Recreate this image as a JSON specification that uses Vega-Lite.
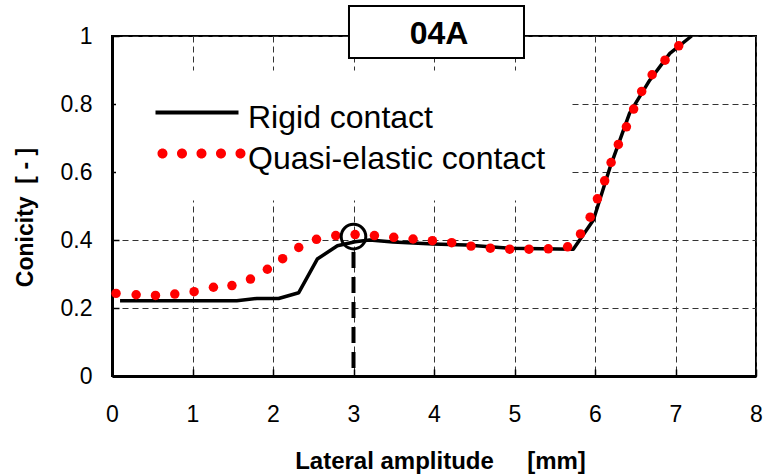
{
  "$schema": "https://vega.github.io/schema/vega-lite/v6.json",
  "width": 644,
  "height": 340,
  "autosize": {"type": "none"},
  "padding": {"left": 112, "top": 36, "right": 10, "bottom": 99},
  "background": "white",
  "config": {
    "view": {"stroke": "black", "strokeWidth": 2},
    "font": "Liberation Sans"
  },
  "data": {
    "values": [
      {"series": "Rigid contact", "x": 0.1, "y": 0.221},
      {"series": "Rigid contact", "x": 1.55, "y": 0.221},
      {"series": "Rigid contact", "x": 1.8, "y": 0.228},
      {"series": "Rigid contact", "x": 2.07, "y": 0.228},
      {"series": "Rigid contact", "x": 2.32, "y": 0.245},
      {"series": "Rigid contact", "x": 2.55, "y": 0.344},
      {"series": "Rigid contact", "x": 2.8, "y": 0.383},
      {"series": "Rigid contact", "x": 3.02, "y": 0.395},
      {"series": "Rigid contact", "x": 3.2, "y": 0.4},
      {"series": "Rigid contact", "x": 3.49, "y": 0.394},
      {"series": "Rigid contact", "x": 3.99, "y": 0.388},
      {"series": "Rigid contact", "x": 4.4, "y": 0.385},
      {"series": "Rigid contact", "x": 4.94, "y": 0.376},
      {"series": "Rigid contact", "x": 5.73, "y": 0.373},
      {"series": "Rigid contact", "x": 5.98, "y": 0.459},
      {"series": "Rigid contact", "x": 6.19, "y": 0.616},
      {"series": "Rigid contact", "x": 6.43, "y": 0.773},
      {"series": "Rigid contact", "x": 6.68, "y": 0.87},
      {"series": "Rigid contact", "x": 6.93, "y": 0.949},
      {"series": "Rigid contact", "x": 7.2, "y": 1.0},
      {"series": "Quasi-elastic contact", "x": 0.05, "y": 0.243},
      {"series": "Quasi-elastic contact", "x": 0.3, "y": 0.239},
      {"series": "Quasi-elastic contact", "x": 0.54, "y": 0.237},
      {"series": "Quasi-elastic contact", "x": 0.78, "y": 0.241},
      {"series": "Quasi-elastic contact", "x": 1.02, "y": 0.248},
      {"series": "Quasi-elastic contact", "x": 1.26, "y": 0.261},
      {"series": "Quasi-elastic contact", "x": 1.49, "y": 0.266},
      {"series": "Quasi-elastic contact", "x": 1.72, "y": 0.285},
      {"series": "Quasi-elastic contact", "x": 1.93, "y": 0.314},
      {"series": "Quasi-elastic contact", "x": 2.12, "y": 0.345},
      {"series": "Quasi-elastic contact", "x": 2.32, "y": 0.378},
      {"series": "Quasi-elastic contact", "x": 2.54, "y": 0.402},
      {"series": "Quasi-elastic contact", "x": 2.78, "y": 0.413},
      {"series": "Quasi-elastic contact", "x": 3.02, "y": 0.416},
      {"series": "Quasi-elastic contact", "x": 3.26, "y": 0.413},
      {"series": "Quasi-elastic contact", "x": 3.5, "y": 0.408},
      {"series": "Quasi-elastic contact", "x": 3.74, "y": 0.403},
      {"series": "Quasi-elastic contact", "x": 3.98, "y": 0.398},
      {"series": "Quasi-elastic contact", "x": 4.22, "y": 0.392},
      {"series": "Quasi-elastic contact", "x": 4.46, "y": 0.382},
      {"series": "Quasi-elastic contact", "x": 4.7, "y": 0.376},
      {"series": "Quasi-elastic contact", "x": 4.94, "y": 0.373},
      {"series": "Quasi-elastic contact", "x": 5.18, "y": 0.373},
      {"series": "Quasi-elastic contact", "x": 5.42, "y": 0.374},
      {"series": "Quasi-elastic contact", "x": 5.66, "y": 0.38},
      {"series": "Quasi-elastic contact", "x": 5.82, "y": 0.418},
      {"series": "Quasi-elastic contact", "x": 5.94, "y": 0.467},
      {"series": "Quasi-elastic contact", "x": 6.03, "y": 0.521},
      {"series": "Quasi-elastic contact", "x": 6.12, "y": 0.574},
      {"series": "Quasi-elastic contact", "x": 6.2, "y": 0.628},
      {"series": "Quasi-elastic contact", "x": 6.29, "y": 0.681},
      {"series": "Quasi-elastic contact", "x": 6.39, "y": 0.733},
      {"series": "Quasi-elastic contact", "x": 6.48, "y": 0.785},
      {"series": "Quasi-elastic contact", "x": 6.58, "y": 0.837},
      {"series": "Quasi-elastic contact", "x": 6.71, "y": 0.886},
      {"series": "Quasi-elastic contact", "x": 6.87, "y": 0.929},
      {"series": "Quasi-elastic contact", "x": 7.04, "y": 0.971}
    ]
  },
  "layer": [
    {
      "transform": [{"filter": "datum.series === 'Rigid contact'"}],
      "mark": {"type": "line", "strokeWidth": 3.5, "strokeJoin": "round"},
      "encoding": {
        "x": {
          "field": "x", "type": "quantitative",
          "scale": {"domain": [0, 8], "nice": false, "zero": false},
          "axis": {
            "title": "Lateral amplitude\u00a0\u00a0\u00a0\u00a0\u00a0[mm]",
            "values": [0, 1, 2, 3, 4, 5, 6, 7, 8],
            "format": "~g",
            "grid": true, "gridColor": "#333333", "gridDash": [6, 4], "gridWidth": 1,
            "domainColor": "black", "domainWidth": 3,
            "ticks": true, "tickColor": "black", "tickSize": -7, "tickWidth": 1.5,
            "labelPadding": 34, "labelFontSize": 23, "labelFont": "Liberation Sans", "labelColor": "black",
            "labelFlush": false, "labelOverlap": false,
            "titleFont": "Liberation Sans", "titleFontSize": 24, "titleFontWeight": "bold", "titleColor": "black",
            "titleX": 328, "titleY": 92, "titleBaseline": "alphabetic", "titleAlign": "center"
          }
        },
        "y": {
          "field": "y", "type": "quantitative",
          "scale": {"domain": [0, 1], "nice": false, "zero": false},
          "axis": {
            "title": "Conicity\u00a0\u00a0[ - ]",
            "values": [0, 0.2, 0.4, 0.6, 0.8, 1],
            "format": "~g",
            "grid": true, "gridColor": "#333333", "gridDash": [6, 4], "gridWidth": 1,
            "domainColor": "black", "domainWidth": 3,
            "ticks": true, "tickColor": "black", "tickSize": -7, "tickWidth": 1.5,
            "labelPadding": 27, "labelFontSize": 23, "labelFont": "Liberation Sans", "labelColor": "black",
            "labelFlush": false, "labelOverlap": false,
            "titleFont": "Liberation Sans", "titleFontSize": 23, "titleFontWeight": "bold", "titleColor": "black",
            "titleAngle": -90, "titleX": -80, "titleY": 181, "titleBaseline": "alphabetic", "titleAlign": "center"
          }
        },
        "color": {
          "field": "series", "type": "nominal",
          "scale": {"domain": ["Rigid contact", "Quasi-elastic contact"], "range": ["black", "#ff0000"]},
          "legend": {
            "orient": "none", "legendX": 4, "legendY": 34.5, "title": null,
            "fillColor": "white", "padding": 26, "rowPadding": 4,
            "symbolSize": 100, "symbolStrokeWidth": 4, "symbolOffset": 39,
            "labelOffset": 35, "labelFontSize": 32, "labelFont": "Liberation Sans", "labelColor": "black",
            "labelLimit": 0, "zindex": 1,
            "encode": {
              "labels": {"update": {"dy": {"value": 5}}},
              "symbols": {
                "update": {
                  "shape": {"signal": "datum.value === 'Rigid contact' ? 'M-8.3,0H8.3' : 'M-7.9,0a1,1 0 1,0 2,0a1,1 0 1,0 -2,0ZM-4,0a1,1 0 1,0 2,0a1,1 0 1,0 -2,0ZM-0.1,0a1,1 0 1,0 2,0a1,1 0 1,0 -2,0ZM3.8,0a1,1 0 1,0 2,0a1,1 0 1,0 -2,0ZM7.7,0a1,1 0 1,0 2,0a1,1 0 1,0 -2,0Z'"},
                  "fill": {"signal": "datum.value === 'Rigid contact' ? 'transparent' : '#ff0000'"},
                  "stroke": {"signal": "datum.value === 'Rigid contact' ? 'black' : 'transparent'"},
                  "strokeWidth": {"signal": "datum.value === 'Rigid contact' ? 4 : 0"},
                  "size": {"value": 100},
                  "opacity": {"value": 1}
                }
              }
            }
          }
        }
      }
    },
    {
      "transform": [{"filter": "datum.series === 'Quasi-elastic contact'"}],
      "mark": {"type": "point", "filled": true, "size": 90, "opacity": 1},
      "encoding": {
        "x": {"field": "x", "type": "quantitative", "scale": {"domain": [0, 8], "nice": false, "zero": false}},
        "y": {"field": "y", "type": "quantitative", "scale": {"domain": [0, 1], "nice": false, "zero": false}},
        "color": {
          "field": "series", "type": "nominal",
          "scale": {"domain": ["Rigid contact", "Quasi-elastic contact"], "range": ["black", "#ff0000"]}
        }
      }
    },
    {
      "data": {"values": [{}]},
      "mark": {"type": "rule", "color": "black", "strokeWidth": 4, "strokeDash": [16, 9]},
      "encoding": {"x": {"datum": 3}, "y": {"datum": 0.365}, "y2": {"datum": 0}}
    },
    {
      "data": {"values": [{}]},
      "mark": {"type": "point", "shape": "circle", "size": 605, "stroke": "black", "strokeWidth": 3, "filled": false, "opacity": 1},
      "encoding": {"x": {"datum": 3}, "y": {"datum": 0.41}}
    },
    {
      "data": {"values": [{}]},
      "mark": {"type": "rect", "fill": "white", "stroke": "black", "strokeWidth": 2},
      "encoding": {"x": {"datum": 2.944}, "x2": {"datum": 5.118}, "y": {"datum": 1.088}, "y2": {"datum": 0.935}}
    },
    {
      "data": {"values": [{}]},
      "mark": {"type": "text", "text": "04A", "font": "Liberation Sans", "fontSize": 32, "fontWeight": "bold", "color": "black", "align": "center", "baseline": "middle"},
      "encoding": {"x": {"datum": 4.062}, "y": {"datum": 1.0059}}
    }
  ]
}
